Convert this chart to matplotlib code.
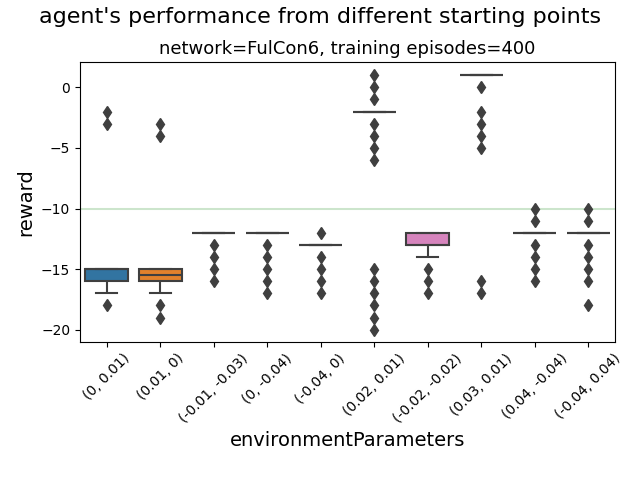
import matplotlib
matplotlib.use("Agg")
import matplotlib.pyplot as plt
import seaborn as sns
import pandas as pd

categories = ["(0, 0.01)", "(0.01, 0)", "(-0.01, -0.03)", "(0, -0.04)", "(-0.04, 0)",
              "(0.02, 0.01)", "(-0.02, -0.02)", "(0.03, 0.01)", "(0.04, -0.04)", "(-0.04, 0.04)"]
rewards = [
    [-15]*45 + [-16]*40 + [-17]*5 + [-18, -2, -3],
    [-15]*45 + [-16]*40 + [-17]*5 + [-18, -19, -3, -4],
    [-12]*80 + [-13, -14, -15, -16],
    [-12]*80 + [-13, -14, -15, -16, -17],
    [-13]*80 + [-12, -14, -15, -16, -17],
    [-2]*80 + [1, 0, -1, -3, -4, -5, -6, -15, -16, -17, -18, -19, -20],
    [-12]*40 + [-13]*45 + [-14]*5 + [-15, -16, -17],
    [1]*80 + [0, -2, -3, -4, -5, -16, -17],
    [-12]*80 + [-10, -11, -13, -14, -15, -16],
    [-12]*80 + [-10, -11, -13, -14, -15, -16, -18],
]

rows = [(c, v) for c, vals in zip(categories, rewards) for v in vals]
df = pd.DataFrame(rows, columns=["environmentParameters", "reward"])

fig = plt.figure(figsize=(6.4, 4.8), dpi=100)
ax = fig.add_axes([0.125, 0.288, 0.836, 0.583])
sns.boxplot(data=df, x="environmentParameters", y="reward", hue="environmentParameters",
            palette="tab10", legend=False, ax=ax, saturation=0.75, linewidth=1.5,
            linecolor="#3f3f3f",
            flierprops=dict(marker="d", markerfacecolor="#3f3f3f", markeredgecolor="#3f3f3f", markersize=6))
ax.axhline(-10, color="green", alpha=0.2, zorder=0)
ax.set_ylim(-21, 2.1)
ax.set_yticks([0, -5, -10, -15, -20])
ax.tick_params(axis="x", rotation=45)
ax.set_xlabel("environmentParameters", fontsize=14)
ax.set_ylabel("reward", fontsize=14)
ax.set_title("network=FulCon6, training episodes=400", fontsize=13)
fig.suptitle("agent's performance from different starting points", fontsize=16, y=0.985)
fig.savefig("out.png", dpi=100)
